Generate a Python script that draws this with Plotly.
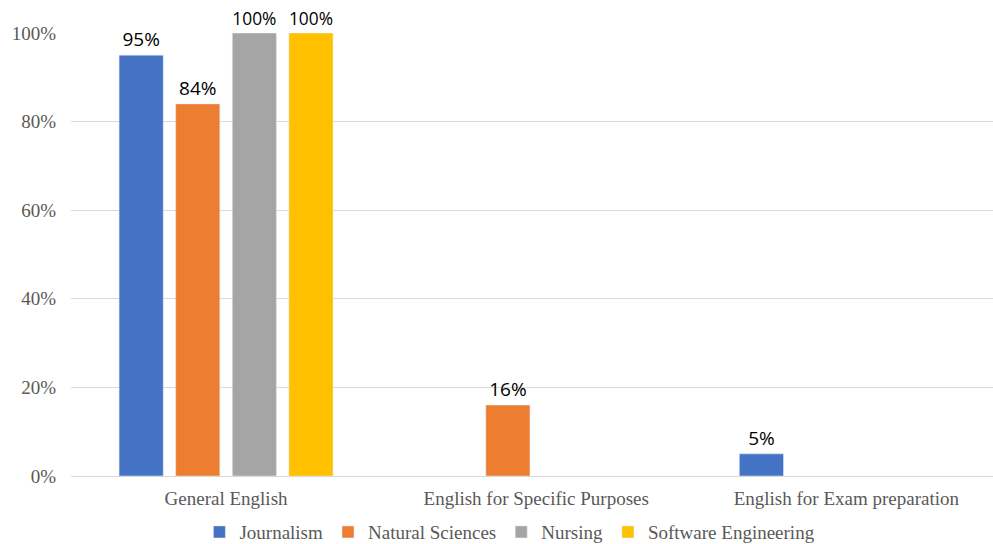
import plotly.graph_objects as go

categories = ["General English", "English for Specific Purposes", "English for Exam preparation"]
series_names = ["Journalism", "Natural Sciences", "Nursing", "Software Engineering"]
journalism = [0.95, None, 0.05]
natural_sciences = [0.84, 0.16, None]
nursing = [1.00, None, None]
software_engineering = [1.00, None, None]
y_ticks = [0, 0.2, 0.4, 0.6, 0.8, 1.0]
y_tick_labels = ["0%", "20%", "40%", "60%", "80%", "100%"]

colors = ["#4472C4", "#ED7D31", "#A5A5A5", "#FFC000"]
all_values = [journalism, natural_sciences, nursing, software_engineering]

serif = "Liberation Serif, Times New Roman, serif"

fig = go.Figure()
for name, vals, col in zip(series_names, all_values, colors):
    fig.add_trace(go.Bar(
        x=categories, y=vals, name=name, marker_color=col,
        text=[f"{round(v*100)}%" if v is not None else "" for v in vals],
        textposition="outside", cliponaxis=False,
        textfont=dict(family="Open Sans, Liberation Sans, sans-serif", size=19, color="#000000"),
    ))

fig.update_layout(
    width=993, height=544,
    margin=dict(l=71, r=0, t=33, b=68),
    paper_bgcolor="white", plot_bgcolor="white",
    barmode="group", bargap=0.27, bargroupgap=0.22,
    font=dict(family=serif, size=19, color="#595959"),
    showlegend=True,
    legend=dict(orientation="h", xref="container", yref="container",
                x=0.5135, xanchor="center", y=0.022, yanchor="middle",
                font=dict(family=serif, size=19, color="#595959"),
                tracegroupgap=0),
)
fig.update_xaxes(range=[-0.5, 2.473], showgrid=False, showline=False, ticks="",
                 tickfont=dict(family=serif, size=19, color="#595959"),
                 ticklabelstandoff=9)
fig.update_yaxes(range=[0, 1], tickvals=y_ticks, ticktext=y_tick_labels,
                 showgrid=True, gridcolor="#D9D9D9", gridwidth=1,
                 zeroline=True, zerolinecolor="#D9D9D9", zerolinewidth=1,
                 showline=False, ticks="",
                 tickfont=dict(family=serif, size=19, color="#595959"),
                 ticklabelstandoff=14)

fig.write_html("out.html", config={"displayModeBar": False},
               post_script="document.body.style.margin='0';")
